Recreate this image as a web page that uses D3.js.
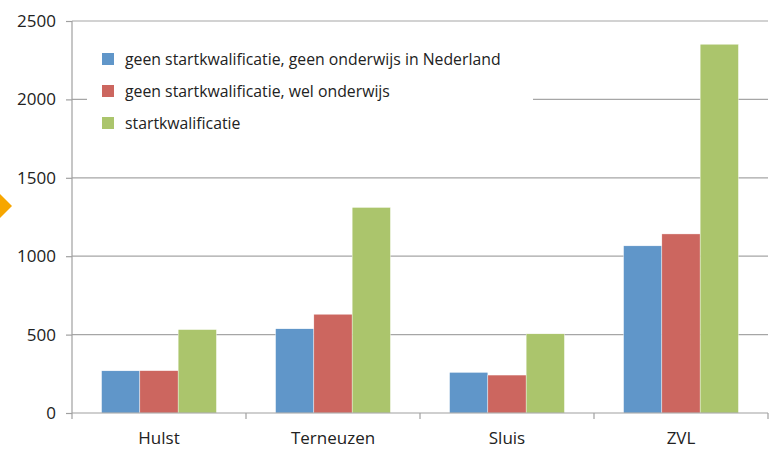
<!DOCTYPE html>
<html>
<head>
<meta charset="utf-8">
<script src="https://cdn.jsdelivr.net/npm/d3@7"></script>
<style>
  body { margin: 0; background: #fff; }
  svg text { font-family: "Open Sans", "Noto Sans", sans-serif; fill: #222; }
</style>
</head>
<body>
<div id="chart"></div>
<script>
var categories = ['Hulst', 'Terneuzen', 'Sluis', 'ZVL'];
var seriesNames = [
    'geen startkwalificatie, geen onderwijs in Nederland',
    'geen startkwalificatie, wel onderwijs',
    'startkwalificatie'
];
var geenGeen = [269, 537, 259, 1066];
var geenWel = [270, 630, 242, 1142];
var start = [532, 1311, 505, 2352];
var colors = ['#6096C9', '#CC665F', '#ABC56C'];
var yTicks = [0, 500, 1000, 1500, 2000, 2500];

var width = 783, height = 449;
var margin = { left: 72, right: 15, top: 21, bottom: 36 };
var series = [geenGeen, geenWel, start];

var svg = d3.select('#chart').append('svg')
    .attr('width', width)
    .attr('height', height);

// orange marker on the left edge
svg.append('path')
    .attr('d', 'M0,194 L12,206 L0,218 Z')
    .attr('fill', '#F7A600');

var x0 = d3.scaleBand()
    .domain(categories)
    .range([margin.left, width - margin.right])
    .paddingInner(0.34)
    .paddingOuter(0.17);

var x1 = d3.scaleBand()
    .domain(d3.range(series.length))
    .range([0, x0.bandwidth()]);

var y = d3.scaleLinear()
    .domain([0, 2500])
    .range([height - margin.bottom, margin.top]);

// gridlines
svg.append('g')
    .selectAll('line')
    .data(yTicks.slice(1))
    .enter().append('line')
    .attr('x1', margin.left)
    .attr('x2', width - margin.right)
    .attr('y1', function (d) { return y(d); })
    .attr('y2', function (d) { return y(d); })
    .attr('stroke', '#a6a6a6')
    .attr('stroke-width', 1.2);

// bars
var groups = svg.append('g')
    .selectAll('g')
    .data(categories)
    .enter().append('g')
    .attr('transform', function (d) { return 'translate(' + x0(d) + ',0)'; });

groups.selectAll('rect')
    .data(function (d, i) { return series.map(function (s, k) { return { k: k, v: s[i] }; }); })
    .enter().append('rect')
    .attr('x', function (d) { return x1(d.k); })
    .attr('width', x1.bandwidth())
    .attr('y', function (d) { return y(d.v); })
    .attr('height', function (d) { return y(0) - y(d.v); })
    .attr('fill', function (d) { return colors[d.k]; })
    .attr('stroke', '#fff')
    .attr('stroke-width', 0.4);

// y axis
var yAxis = svg.append('g')
    .attr('transform', 'translate(' + margin.left + ',0)')
    .call(d3.axisLeft(y).tickValues(yTicks).tickSize(6).tickPadding(10).tickFormat(d3.format('d')));
yAxis.selectAll('line, path').attr('stroke', '#a0a0a0').attr('stroke-width', 1.2);
yAxis.select('.domain').attr('d', 'M0,' + y(0) + 'V' + y(2500));
yAxis.selectAll('text').style('font-size', '17px').attr('fill', '#222');

// x axis
var xAxis = svg.append('g')
    .attr('transform', 'translate(0,' + y(0) + ')')
    .call(d3.axisBottom(x0).tickSize(0).tickPadding(19));
xAxis.select('.domain').attr('stroke', '#a0a0a0').attr('stroke-width', 1.2)
    .attr('d', 'M' + margin.left + ',0H' + (width - margin.right));
xAxis.selectAll('text').style('font-size', '17px').attr('fill', '#222');

var step = x0.step();
xAxis.selectAll('.sep')
    .data(d3.range(categories.length + 1))
    .enter().append('line')
    .attr('class', 'sep')
    .attr('x1', function (d) { return margin.left + d * step; })
    .attr('x2', function (d) { return margin.left + d * step; })
    .attr('y1', 0)
    .attr('y2', 6)
    .attr('stroke', '#a0a0a0')
    .attr('stroke-width', 1.2);

// legend
var legend = svg.append('g');
legend.append('rect')
    .attr('x', 87).attr('y', 40)
    .attr('width', 446).attr('height', 100)
    .attr('fill', '#fff');

var items = legend.selectAll('g.item')
    .data(seriesNames)
    .enter().append('g')
    .attr('class', 'item')
    .attr('transform', function (d, i) { return 'translate(102,' + (53 + i * 32) + ')'; });

items.append('rect')
    .attr('width', 12).attr('height', 12)
    .attr('fill', function (d, i) { return colors[i]; });

items.append('text')
    .attr('x', 23)
    .attr('y', 12)
    .style('font-size', '15.8px')
    .text(function (d) { return d; });
</script>
</body>
</html>
